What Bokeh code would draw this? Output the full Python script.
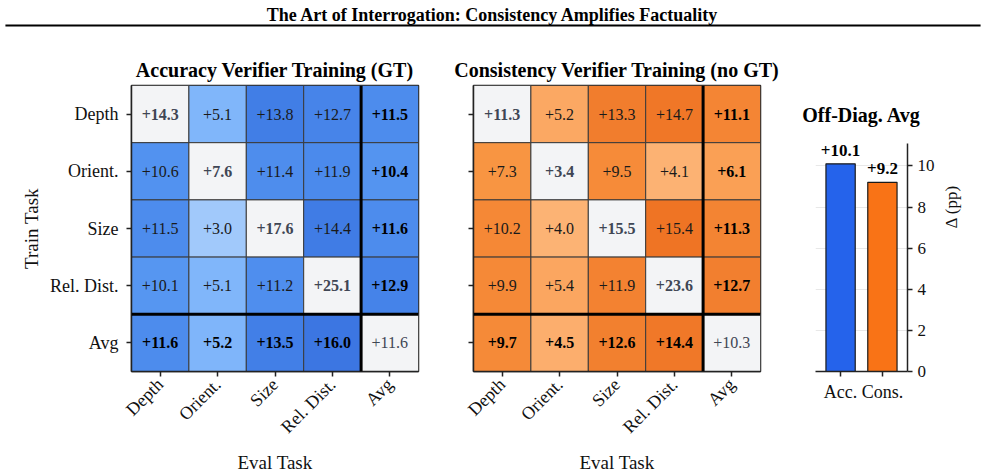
import numpy as np
from bokeh.plotting import figure
from bokeh.layouts import column, row
from bokeh.models import ColumnDataSource, FixedTicker, Span, Range1d
from bokeh.embed import file_html
from bokeh.resources import INLINE
from bokeh.core.properties import value

# ---- data -----------------------------------------------------------------
train_tasks = ["Depth", "Orient.", "Size", "Rel. Dist.", "Avg"]
eval_tasks = ["Depth", "Orient.", "Size", "Rel. Dist.", "Avg"]

# gain (pp) after verifier training: rows = train task, cols = eval task
acc_gain = [
    [14.3, 5.1, 13.8, 12.7, 11.5],
    [10.6, 7.6, 11.4, 11.9, 10.4],
    [11.5, 3.0, 17.6, 14.4, 11.6],
    [10.1, 5.1, 11.2, 25.1, 12.9],
    [11.6, 5.2, 13.5, 16.0, 11.6],
]
cons_gain = [
    [11.3, 5.2, 13.3, 14.7, 11.1],
    [7.3, 3.4, 9.5, 4.1, 6.1],
    [10.2, 4.0, 15.5, 15.4, 11.3],
    [9.9, 5.4, 11.9, 23.6, 12.7],
    [9.7, 4.5, 12.6, 14.4, 10.3],
]

bar_labels = ["Acc.", "Cons."]
offdiag_avg = [10.1, 9.2]

# ---- styling ----------------------------------------------------------------
SERIF = "Liberation Serif"
DIAG_FILL = "#f3f4f6"
BAR_COLORS = ["#2563eb", "#f97316"]
FRAME_W, FRAME_H = 287, 288
BORDER_TOP, BORDER_BOTTOM = 55, 103
FIG_H = BORDER_TOP + FRAME_H + BORDER_BOTTOM

# colour ramps (value -> rgb) used for off-diagonal cells
BLUE_RAMP = [(3.0, (161, 201, 251)), (5.1, (128, 182, 250)), (10.5, (83, 147, 240)),
             (13.5, (66, 127, 231)), (16.0, (60, 118, 226)), (30.0, (50, 100, 215))]
ORANGE_RAMP = [(4.0, (252, 179, 116)), (5.3, (251, 167, 98)), (7.3, (248, 149, 66)),
               (10.0, (245, 137, 55)), (13.3, (241, 125, 45)), (15.5, (239, 116, 36)),
               (30.0, (230, 100, 25))]


def ramp_color(v, ramp):
    xs = [a for a, _ in ramp]
    rgb = [int(round(np.interp(v, xs, [c[k] for _, c in ramp]))) for k in range(3)]
    return "#%02x%02x%02x" % tuple(rgb)


def style_axis(ax, tick_size="18px", label_size="19px"):
    ax.major_label_text_font = SERIF
    ax.major_label_text_font_size = tick_size
    ax.major_label_text_color = "#111111"
    ax.axis_label_text_font = SERIF
    ax.axis_label_text_font_size = label_size
    ax.axis_label_text_font_style = "normal"
    ax.axis_label_text_color = "#111111"
    ax.minor_tick_line_color = None
    ax.major_tick_in = 0
    ax.major_tick_out = 5
    ax.major_tick_line_width = 1.5
    ax.major_tick_line_color = "#222222"
    ax.axis_line_color = "#222222"
    ax.axis_line_width = 1.5


def style_title(p, standoff):
    p.title.text_font = SERIF
    p.title.text_font_size = "20px"
    p.title.text_font_style = "bold"
    p.title.text_color = "black"
    p.title.align = "center"
    p.title.standoff = standoff


def heatmap(gain, ramp, title, show_labels, border_left, border_right):
    n = len(train_tasks)
    data = dict(x=[], y=[], fill=[], txt=[], weight=[], tcolor=[])
    for i in range(n):
        for j in range(n):
            v = gain[i][j]
            diag = i == j
            avg = (i == n - 1) or (j == n - 1)
            data["x"].append(j + 0.5)
            data["y"].append(n - i - 0.5)
            data["fill"].append(DIAG_FILL if diag else ramp_color(v, ramp))
            data["txt"].append("+%.1f" % v)
            if diag and i == n - 1:
                data["weight"].append("normal")
                data["tcolor"].append("#3f4654")
            elif diag:
                data["weight"].append("bold")
                data["tcolor"].append("#3f4654")
            elif avg:
                data["weight"].append("bold")
                data["tcolor"].append("#000000")
            else:
                data["weight"].append("normal")
                data["tcolor"].append("#1a1a1a")
    src = ColumnDataSource(data)

    p = figure(width=border_left + FRAME_W + border_right, height=FIG_H,
               x_range=Range1d(0, n), y_range=Range1d(0, n),
               min_border_left=border_left, min_border_right=border_right,
               min_border_top=BORDER_TOP, min_border_bottom=BORDER_BOTTOM,
               output_backend="svg", toolbar_location=None, title=title)
    style_title(p, 10)

    p.rect(x="x", y="y", width=1, height=1, source=src, fill_color="fill",
           line_color="#3a3a3a", line_width=1)
    p.text(x="x", y="y", text="txt", source=src, text_align="center",
           text_baseline="middle", text_font=value(SERIF), text_font_size="16px",
           text_font_style="weight", text_color="tcolor")

    # heavy separators around the average row/column
    p.add_layout(Span(location=n - 1, dimension="height", line_color="black", line_width=3))
    p.add_layout(Span(location=1, dimension="width", line_color="black", line_width=3))

    ticks = [k + 0.5 for k in range(n)]
    p.xaxis.ticker = FixedTicker(ticks=ticks)
    p.yaxis.ticker = FixedTicker(ticks=ticks)
    p.xaxis.major_label_overrides = {t: lab for t, lab in zip(ticks, eval_tasks)}
    p.yaxis.major_label_overrides = {t: lab for t, lab in zip(ticks, train_tasks[::-1])}
    p.xaxis.major_label_orientation = np.pi / 4
    p.xaxis.axis_label = "Eval Task"
    style_axis(p.xaxis)
    style_axis(p.yaxis)
    p.yaxis.major_label_standoff = 8
    if show_labels:
        p.yaxis.axis_label = "Train Task"
    else:
        p.yaxis.major_label_text_color = None
    p.grid.visible = False
    p.outline_line_color = "#222222"
    p.outline_line_width = 1.5
    return p


p_acc = heatmap(acc_gain, BLUE_RAMP, "Accuracy Verifier Training (GT)", True, 131, 20)
p_cons = heatmap(cons_gain, ORANGE_RAMP, "Consistency Verifier Training (no GT)", False, 35, 20)

# ---- off-diagonal average bars -------------------------------------------------
# the value axis only spans [0, ylim_top]; the frame leaves head-room for the title
ylim_top = max(offdiag_avg) * 1.1
axis_px = 230
y_end = ylim_top * FRAME_H / axis_px
bar_x = list(range(len(bar_labels)))
bsrc = ColumnDataSource(dict(x=bar_x, top=offdiag_avg, color=BAR_COLORS,
                             lab=["+%.1f" % v for v in offdiag_avg]))
p_bar = figure(width=35 + 92 + 78, height=FIG_H,
               x_range=Range1d(-0.6, 1.6), y_range=Range1d(0, y_end),
               min_border_left=35, min_border_right=78, min_border_top=BORDER_TOP,
               min_border_bottom=BORDER_BOTTOM, y_axis_location="right",
               output_backend="svg", toolbar_location=None, title="Off-Diag. Avg")
style_title(p_bar, -80)
p_bar.vbar(x="x", top="top", width=0.7, source=bsrc, fill_color="color",
           line_color="#1a1a1a", line_width=1.2)
p_bar.text(x="x", y="top", text="lab", source=bsrc, y_offset=-8, text_align="center",
           text_baseline="bottom", text_font=value(SERIF), text_font_size="17px",
           text_font_style="bold", text_color="black")
p_bar.xaxis.ticker = FixedTicker(ticks=bar_x)
p_bar.xaxis.major_label_overrides = {x: lab for x, lab in zip(bar_x, bar_labels)}
p_bar.yaxis.ticker = FixedTicker(ticks=[0, 2, 4, 6, 8, 10])
p_bar.yaxis.bounds = (0, ylim_top)
p_bar.yaxis.axis_label = "Δ (pp)"
style_axis(p_bar.xaxis, "18px", "17px")
style_axis(p_bar.yaxis, "17px", "17px")
p_bar.yaxis.axis_label_orientation = np.pi / 2
p_bar.yaxis.axis_label_standoff = 14
p_bar.xgrid.visible = False
p_bar.ygrid.grid_line_color = "#e8e8e8"
p_bar.ygrid.grid_line_width = 1
p_bar.outline_line_color = None

# ---- banner title with rule ------------------------------------------------------
banner = figure(width=985, height=30, x_range=Range1d(0, 1), y_range=Range1d(0, 1),
                min_border=0, output_backend="svg", toolbar_location=None)
banner.axis.visible = False
banner.grid.visible = False
banner.outline_line_color = None
banner.text(x=[0.5], y=[0.53],
            text=["The Art of Interrogation: Consistency Amplifies Factuality"],
            text_align="center", text_baseline="middle", text_font=value(SERIF),
            text_font_size="18px", text_font_style="bold", text_color="black")
banner.line(x=[0.005, 0.995], y=[0.17, 0.17], line_color="black", line_width=2)

layout = column(banner, row(p_acc, p_cons, p_bar, spacing=0), spacing=0)
open("out.html", "w").write(file_html(layout, INLINE))
